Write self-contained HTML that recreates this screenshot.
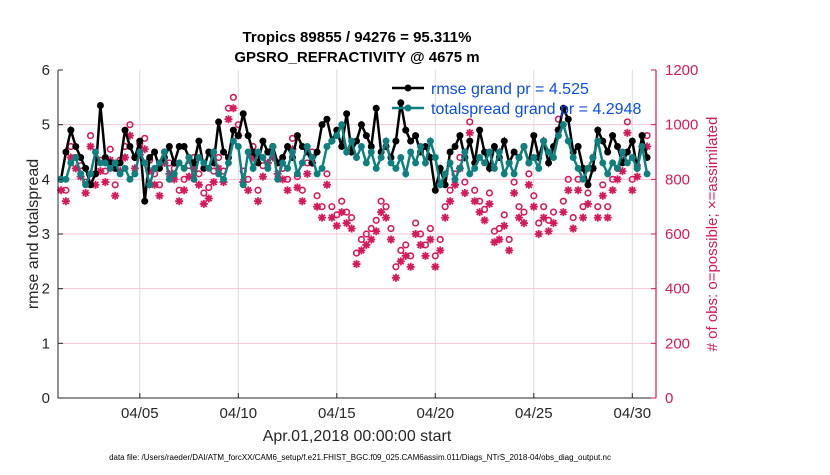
<!DOCTYPE html>
<html><head><meta charset="utf-8"><style>
body{margin:0;background:#fff;font-family:"Liberation Sans",sans-serif}
</style></head><body>
<svg id="c" width="830" height="470" xmlns="http://www.w3.org/2000/svg"></svg>
<script>
const rmse=[4.0,4.5,4.9,4.6,4.4,4.2,3.9,4.1,5.35,4.4,4.3,4.2,4.3,4.9,4.6,4.4,4.7,3.6,4.4,4.5,4.2,4.4,4.6,4.3,4.6,4.6,4.4,4.3,4.7,4.2,4.5,4.3,5.05,4.5,4.4,4.9,4.8,5.2,4.8,4.5,4.3,4.7,4.5,4.6,4.3,4.4,4.6,4.4,4.8,4.6,4.5,4.3,4.5,5.0,5.1,4.7,4.9,4.6,5.2,4.5,4.7,5.0,4.8,4.6,5.3,4.5,4.6,4.4,4.7,5.4,4.9,4.7,4.8,4.5,4.6,4.4,3.8,4.2,3.9,4.5,4.6,4.8,4.4,4.7,4.3,4.9,4.5,4.2,4.6,4.4,4.7,4.3,4.5,4.4,4.6,4.3,4.8,4.4,4.7,4.3,4.6,4.9,5.3,5.1,4.5,4.6,4.2,3.9,4.2,4.9,4.7,4.5,4.8,4.6,4.3,4.5,4.7,4.2,4.8,4.4];
const spread=[4.0,4.0,4.3,4.4,4.1,3.9,4.1,4.5,4.3,4.3,4.2,4.3,4.1,4.2,4.0,4.1,4.5,4.3,3.9,4.2,4.3,4.5,4.0,4.1,4.3,4.2,4.4,4.0,4.4,4.3,4.2,4.5,4.1,4.0,4.3,4.7,4.6,3.9,4.5,4.2,4.5,4.4,4.2,4.6,4.0,4.3,4.2,4.5,4.1,4.3,4.6,4.4,4.1,4.2,4.6,4.7,4.8,5.0,4.5,4.7,4.4,4.6,4.3,4.5,4.2,4.4,4.7,4.3,4.2,4.4,4.1,4.5,4.3,4.6,4.3,4.7,4.4,3.9,4.1,4.3,4.0,4.2,4.5,4.1,4.2,4.4,4.3,4.5,4.2,4.5,4.1,4.3,4.1,4.4,4.6,4.3,4.4,4.2,4.7,4.5,4.4,4.8,5.0,4.7,4.4,4.2,4.0,4.2,4.4,4.7,4.3,4.1,4.3,4.2,4.5,4.3,4.4,4.2,4.6,4.1];
const possible=[800,760,920,880,850,790,960,820,870,830,910,780,870,920,1000,880,930,950,870,820,780,900,860,840,760,800,850,880,820,750,770,830,880,830,1060,1100,1000,830,800,920,760,850,900,920,860,840,800,950,810,760,860,900,740,700,820,700,670,720,680,660,530,580,600,620,650,720,700,620,480,540,560,520,640,600,560,620,520,580,700,760,820,880,790,1010,760,720,690,750,610,620,670,580,790,700,680,820,740,640,700,650,680,1020,720,800,660,800,700,750,880,700,780,700,800,840,870,1010,800,850,960,960];
const assim=[760,720,880,840,810,750,920,780,830,790,870,740,830,880,960,840,890,910,830,780,740,860,820,800,720,760,810,840,780,710,730,790,840,790,1020,1060,960,790,760,880,720,810,860,880,820,800,760,910,770,720,820,860,700,660,780,660,630,680,640,620,490,540,560,580,610,680,660,580,440,500,520,480,600,560,520,580,480,540,660,720,780,840,750,970,720,680,650,710,570,580,630,540,750,660,640,780,700,600,660,610,640,980,680,760,620,760,660,710,840,660,740,660,760,800,830,970,760,810,920,920];
const xTicks=[5,10,15,20,25,30];
const xTickLabels=["04/05","04/10","04/15","04/20","04/25","04/30"];
const yTicks=[0,1,2,3,4,5,6];
const y2Ticks=[0,200,400,600,800,1000,1200];

const svg=document.getElementById('c');
const NS="http://www.w3.org/2000/svg";
const L=58,R=656,T=70,B=398;
const X=d=>61+(d-1)*19.7;
const Y=v=>B-(v/6)*(B-T);
const Y2=v=>B-(v/1200)*(B-T);
function el(tag,attrs,txt){const e=document.createElementNS(NS,tag);for(const k in attrs)e.setAttribute(k,attrs[k]);if(txt!==undefined)e.textContent=txt;svg.appendChild(e);return e;}

xTicks.forEach((d,i)=>{const g=el('line',{x1:X(d),x2:X(d),y1:T,y2:B,stroke:'#dcdcdc','stroke-width':1});
});
yTicks.forEach(v=>{if(v>0&&v<6){const g=el('line',{x1:L,x2:R,y1:Y(v),y2:Y(v),stroke:'#f5c6d6','stroke-width':1});
}});

const dayOf=i=>1+i*0.25;
possible.forEach((v,i)=>{const c=el('circle',{cx:X(dayOf(i)),cy:Y2(v),r:2.8,fill:'none',stroke:'#d6195b','stroke-width':1.6});
});
assim.forEach((v,i)=>{const x=X(dayOf(i)),y=Y2(v),s=4,d=2.9;
 const p=el('path',{d:`M${x-s},${y}H${x+s}M${x},${y-s}V${y+s}M${x-d},${y-d}L${x+d},${y+d}M${x-d},${y+d}L${x+d},${y-d}`,stroke:'#d6195b','stroke-width':1.8,fill:'none'});
 });

function line(arr,col,name){
 const p=el('polyline',{points:arr.map((v,i)=>X(dayOf(i))+','+Y(v)).join(' '),fill:'none',stroke:col,'stroke-width':2.5});
 
 arr.forEach((v,i)=>{const c=el('circle',{cx:X(dayOf(i)),cy:Y(v),r:3.5,fill:col});
 });
}
line(rmse,'#000','rmse');
line(spread,'#0f8080','totalspread');

const ax=el('path',{d:`M${L},${T}V${B}H${R}`,fill:'none',stroke:'#262626','stroke-width':1});

const ax2=el('line',{x1:R,x2:R,y1:T,y2:B,stroke:'#d6195b','stroke-width':1.2});

xTicks.forEach((d,i)=>{el('line',{x1:X(d),x2:X(d),y1:B,y2:B-5,stroke:'#262626'});
 const t=el('text',{x:X(d),y:B+20,'font-size':15,'text-anchor':'middle',fill:'#262626'},xTickLabels[i]);
 });
yTicks.forEach(v=>{el('line',{x1:L,x2:L+5,y1:Y(v),y2:Y(v),stroke:'#262626'});
 const t=el('text',{x:L-8,y:Y(v)+5,'font-size':15,'text-anchor':'end',fill:'#262626'},String(v));
 });
y2Ticks.forEach(v=>{el('line',{x1:R,x2:R-5,y1:Y2(v),y2:Y2(v),stroke:'#d6195b'});
 const t=el('text',{x:R+9,y:Y2(v)+5,'font-size':15,fill:'#d6195b'},String(v));
 });

let t;
t=el('text',{x:357,y:42,'font-size':15,'font-weight':'bold','text-anchor':'middle',fill:'#000'},'Tropics 89855 / 94276 = 95.311%');

t=el('text',{x:357,y:62,'font-size':15,'font-weight':'bold','text-anchor':'middle',fill:'#000'},'GPSRO_REFRACTIVITY @ 4675 m');

t=el('text',{x:357,y:441,'font-size':16,'text-anchor':'middle',fill:'#262626'},'Apr.01,2018 00:00:00 start');

t=el('text',{x:0,y:0,'font-size':16,'text-anchor':'middle',fill:'#262626',transform:'translate(38,234) rotate(-90)'},'rmse and totalspread');

t=el('text',{x:0,y:0,'font-size':15,'text-anchor':'middle',fill:'#d6195b',transform:'translate(717,234) rotate(-90)'},'# of obs: o=possible; \u00d7=assimilated');

t=el('text',{x:360,y:460,'font-size':8,'text-anchor':'middle',fill:'#000'},'data file: /Users/raeder/DAI/ATM_forcXX/CAM6_setup/f.e21.FHIST_BGC.f09_025.CAM6assim.011/Diags_NTrS_2018-04/obs_diag_output.nc');


const lg=[['#000','rmse grand pr = 4.525',88],['#0f8080','totalspread grand pr = 4.2948',108]];
lg.forEach(([c,s,y])=>{el('line',{x1:392,x2:424,y1:y,y2:y,stroke:c,'stroke-width':2.5});el('circle',{cx:408,cy:y,r:3.5,fill:c});
 const tt=el('text',{x:431,y:y+6,'font-size':16,fill:'#0a4de8'},s);
 });
</script>
</body></html>
